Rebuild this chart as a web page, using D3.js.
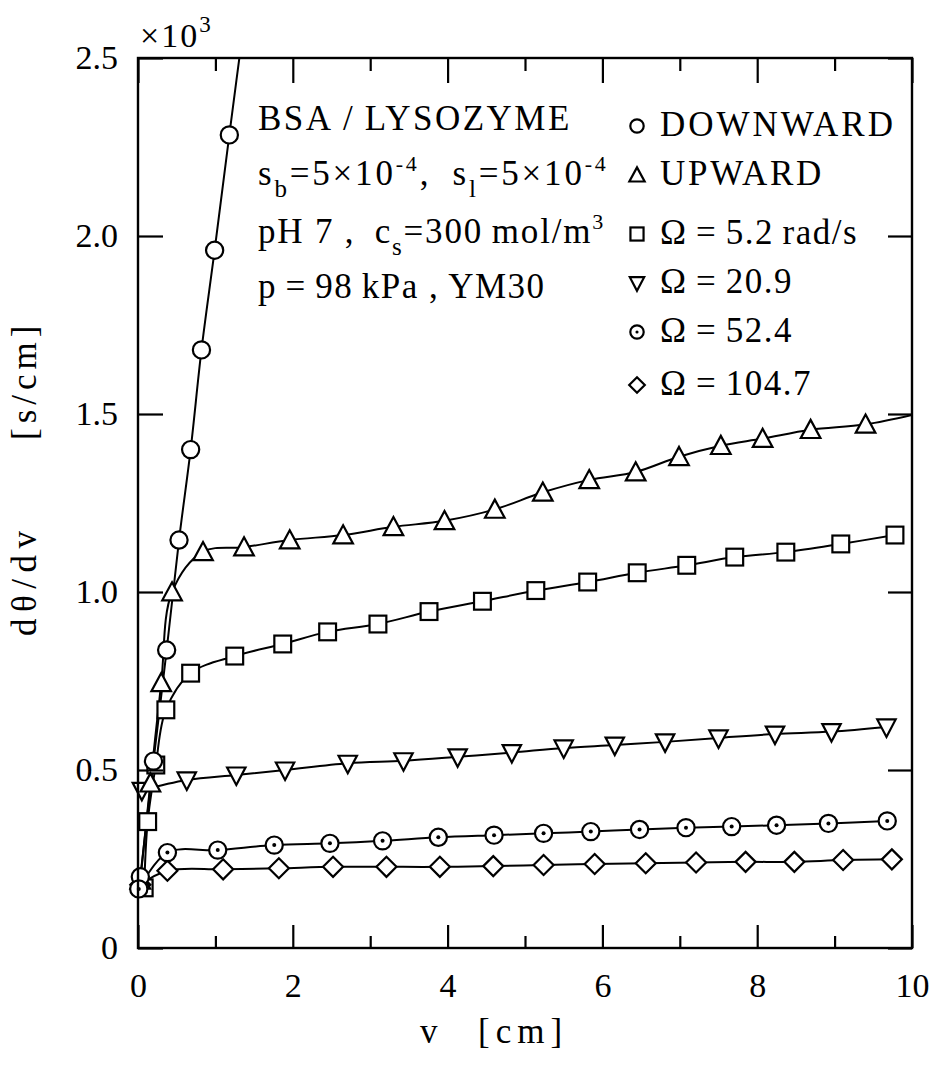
<!DOCTYPE html>
<html>
<head>
<meta charset="utf-8">
<script src="https://cdn.jsdelivr.net/npm/d3@7"></script>
<style>
  html, body { margin: 0; padding: 0; background: #fff; }
  svg { display: block; }
</style>
</head>
<body>
<svg id="chart" width="937" height="1068" font-family="Liberation Serif"></svg>
<script>
// ---- data: dθ/dv [s/cm] against filtrate volume v [cm] ----
const downwardV   = [0.03, 0.20, 0.37, 0.53, 0.68, 0.82, 0.99, 1.18, 1.40];
const downwardVal = [0.20, 0.525, 0.837, 1.146, 1.40, 1.68, 1.96, 2.284, 2.65];

const upwardV   = [0.03, 0.16, 0.30, 0.44, 0.84, 1.37, 1.96, 2.65, 3.30, 3.96, 4.61, 5.23, 5.83, 6.43, 6.99, 7.53, 8.07, 8.69, 9.40, 10.15];
const upwardVal = [0.19, 0.463, 0.745, 1.00, 1.113, 1.126, 1.146, 1.160, 1.183, 1.200, 1.232, 1.280, 1.315, 1.337, 1.380, 1.411, 1.431, 1.456, 1.471, 1.505];

const omega52V   = [0.08, 0.125, 0.23, 0.36, 0.68, 1.25, 1.87, 2.45, 3.10, 3.76, 4.45, 5.14, 5.81, 6.45, 7.09, 7.71, 8.37, 9.08, 9.78];
const omega52Val = [0.169, 0.355, 0.514, 0.669, 0.772, 0.820, 0.854, 0.888, 0.910, 0.945, 0.974, 1.004, 1.028, 1.054, 1.075, 1.098, 1.112, 1.135, 1.160];

const omega209V   = [0.05, 0.63, 1.27, 1.90, 2.71, 3.43, 4.13, 4.83, 5.50, 6.16, 6.81, 7.50, 8.23, 8.96, 9.67];
const omega209Val = [0.443, 0.472, 0.486, 0.500, 0.519, 0.526, 0.537, 0.549, 0.562, 0.570, 0.579, 0.590, 0.601, 0.608, 0.621];

const omega524V   = [0.01, 0.38, 1.03, 1.76, 2.48, 3.16, 3.88, 4.60, 5.24, 5.85, 6.48, 7.08, 7.67, 8.25, 8.92, 9.68];
const omega524Val = [0.166, 0.268, 0.275, 0.289, 0.294, 0.301, 0.311, 0.317, 0.322, 0.327, 0.333, 0.338, 0.341, 0.345, 0.350, 0.357];

const omega1047V   = [0.03, 0.38, 1.10, 1.82, 2.52, 3.21, 3.90, 4.59, 5.24, 5.90, 6.56, 7.21, 7.85, 8.48, 9.11, 9.74];
const omega1047Val = [0.178, 0.217, 0.221, 0.224, 0.228, 0.228, 0.228, 0.230, 0.233, 0.236, 0.238, 0.240, 0.242, 0.242, 0.247, 0.249];

const legendLabels = ["DOWNWARD", "UPWARD", "\u03A9\u2009=\u20095.2\u2009rad/s", "\u03A9\u2009=\u200920.9", "\u03A9\u2009=\u200952.4", "\u03A9\u2009=\u2009104.7"];
const symbolKinds  = ["circle", "triangle", "square", "triangleDown", "dotCircle", "diamond"];

const xMajorTicks = [0, 2, 4, 6, 8, 10];
const xMinorTicks = [1, 3, 5, 7, 9];
const yTicks      = [0, 0.5, 1.0, 1.5, 2.0, 2.5];
const yTickLabels = ["0", "0.5", "1.0", "1.5", "2.0", "2.5"];

const FONT = "Liberation Serif";

// ---- layout ----
const svg = d3.select("#chart");
const margin = { left: 138, top: 58, right: 25, bottom: 120 };
const W = 937, H = 1068;
const w = W - margin.left - margin.right;
const h = H - margin.top - margin.bottom;

const x = d3.scaleLinear().domain([0, 10]).range([0, w]);
const y = d3.scaleLinear().domain([0, 2.5]).range([h, 0]);

const g = svg.append("g").attr("transform", `translate(${margin.left},${margin.top})`);

svg.append("defs").append("clipPath").attr("id", "plotClip")
  .append("rect").attr("x", 0).attr("y", 0).attr("width", w).attr("height", h);

const zip = (vs, ys) => vs.map((v, i) => ({ v, val: ys[i] }));
const series = [
  { kind: "triangleDown", pts: zip(omega209V, omega209Val) },
  { kind: "square",       pts: zip(omega52V, omega52Val) },
  { kind: "diamond",      pts: zip(omega1047V, omega1047Val) },
  { kind: "triangle",     pts: zip(upwardV, upwardVal) },
  { kind: "circle",       pts: zip(downwardV, downwardVal) },
  { kind: "dotCircle",    pts: zip(omega524V, omega524Val) }
];

// ---- curves ----
const line = d3.line()
  .x(d => x(d.v)).y(d => y(d.val))
  .curve(d3.curveCatmullRom.alpha(0.5));

const linesG = g.append("g").attr("clip-path", "url(#plotClip)");
series.forEach(s => {
  linesG.append("path").datum(s.pts)
    .attr("d", line)
    .attr("fill", "none").attr("stroke", "#000").attr("stroke-width", 2);
});

// ---- markers ----
function drawSymbol(sel, kind, scale) {
  const k = scale || 1;
  sel.attr("fill", "#fff").attr("stroke", "#000").attr("stroke-width", 2.2);
  if (kind === "circle" || kind === "dotCircle") {
    sel.append("circle").attr("r", 8.6 * k).attr("fill", "#fff");
    if (kind === "dotCircle") sel.append("circle").attr("r", 2 * k).attr("fill", "#000").attr("stroke", "none");
  } else if (kind === "square") {
    const a = 8.4 * k;
    sel.append("rect").attr("x", -a).attr("y", -a).attr("width", 2 * a).attr("height", 2 * a);
  } else if (kind === "triangle") {
    const s = 9.8 * k, t = 9.8 * k;
    sel.append("path").attr("d", `M0,${-t}L${s},${t * 0.85}L${-s},${t * 0.85}Z`);
  } else if (kind === "triangleDown") {
    const s = 9.2 * k, t = 10 * k;
    sel.append("path").attr("d", `M0,${t}L${s},${-t * 0.75}L${-s},${-t * 0.75}Z`);
  } else if (kind === "diamond") {
    const r = 10 * k;
    sel.append("path").attr("d", `M0,${-r}L${r},0L0,${r}L${-r},0Z`);
  }
}

series.forEach(s => {
  const shown = s.pts.filter(p => p.v <= 10 && p.val <= 2.5);
  g.append("g").selectAll("g").data(shown).join("g")
    .attr("transform", d => `translate(${x(d.v)},${y(d.val)})`)
    .each(function () { drawSymbol(d3.select(this), s.kind); });
});

// ---- axes (ticks pointing inward on all four sides) ----
function styleAxis(sel) {
  sel.attr("font-family", FONT).attr("font-size", 34);
  sel.select(".domain").remove();
  sel.selectAll("line").attr("stroke", "#000").attr("stroke-width", 2.2);
  sel.selectAll("text").attr("fill", "#000");
}

g.append("g").attr("transform", `translate(0,${h})`)
  .call(d3.axisBottom(x).tickValues(xMajorTicks).tickFormat(d3.format("d")).tickSize(-23).tickPadding(25))
  .call(styleAxis);
g.append("g").attr("transform", `translate(0,${h})`)
  .call(d3.axisBottom(x).tickValues(xMinorTicks).tickFormat("").tickSize(-12))
  .call(styleAxis);
g.append("g")
  .call(d3.axisTop(x).tickValues(xMajorTicks).tickFormat("").tickSize(-25))
  .call(styleAxis);
g.append("g")
  .call(d3.axisTop(x).tickValues(xMinorTicks).tickFormat("").tickSize(-13))
  .call(styleAxis);
g.append("g")
  .call(d3.axisLeft(y).tickValues(yTicks).tickFormat((d, i) => yTickLabels[i]).tickSize(-25).tickPadding(20))
  .call(styleAxis);
g.append("g").attr("transform", `translate(${w},0)`)
  .call(d3.axisRight(y).tickValues(yTicks).tickFormat("").tickSize(-24))
  .call(styleAxis);

// frame
g.append("rect").attr("x", 0).attr("y", 0).attr("width", w).attr("height", h)
  .attr("fill", "none").attr("stroke", "#000").attr("stroke-width", 2.4);

// ---- axis titles ----
const xTitle = svg.append("text").attr("x", 420).attr("y", 1043).attr("font-size", 35);
xTitle.append("tspan").text("v");
xTitle.append("tspan").attr("x", 478).attr("letter-spacing", 6).text("[cm]");

const yTitle = svg.append("text")
  .attr("transform", "translate(36,636) rotate(-90)")
  .attr("font-size", 35);
yTitle.append("tspan").attr("letter-spacing", 6.5).text("d\u03B8/dv");
yTitle.append("tspan").attr("x", 196).attr("letter-spacing", 5).text("[s/cm]");

// multiplier above the y axis
const mult = svg.append("text").attr("x", 140).attr("y", 47).attr("font-size", 34);
mult.append("tspan").attr("letter-spacing", 2).text("\u00D710");
mult.append("tspan").attr("font-size", 23).attr("dy", -15).text("3");

// ---- condition block ----
const cond = svg.append("g").attr("font-size", 35);
cond.append("text").attr("x", 258).attr("y", 130).attr("letter-spacing", 2.5).text("BSA\u2009/\u2009LYSOZYME");

const l2 = cond.append("text").attr("x", 258).attr("y", 185).attr("letter-spacing", 2.8);
l2.append("tspan").text("s");
l2.append("tspan").attr("font-size", 25).attr("dy", 12).text("b");
l2.append("tspan").attr("dy", -12).text("=5\u00D710");
l2.append("tspan").attr("font-size", 22).attr("dy", -14).text("-4");
l2.append("tspan").attr("dy", 14).text(", \u2009s");
l2.append("tspan").attr("font-size", 25).attr("dy", 12).text("l");
l2.append("tspan").attr("dy", -12).text("=5\u00D710");
l2.append("tspan").attr("font-size", 22).attr("dy", -14).text("-4");

const l3 = cond.append("text").attr("x", 258).attr("y", 243).attr("letter-spacing", 1.8);
l3.append("tspan").text("pH 7 , \u2009c");
l3.append("tspan").attr("font-size", 25).attr("dy", 12).text("s");
l3.append("tspan").attr("dy", -12).text("=300\u2009mol/m");
l3.append("tspan").attr("font-size", 22).attr("dy", -14).text("3");

cond.append("text").attr("x", 258).attr("y", 298).attr("letter-spacing", 1.5)
  .text("p\u2009=\u200998\u2009kPa , YM30");

// ---- legend ----
const legendRows = [
  { label: legendLabels[0], kind: symbolKinds[0], base: 136, ls: 3 },
  { label: legendLabels[1], kind: symbolKinds[1], base: 185, ls: 2.7 },
  { label: legendLabels[2], kind: symbolKinds[2], base: 244, ls: 1.5 },
  { label: legendLabels[3], kind: symbolKinds[3], base: 293, ls: 1.5 },
  { label: legendLabels[4], kind: symbolKinds[4], base: 342, ls: 1.5 },
  { label: legendLabels[5], kind: symbolKinds[5], base: 395, ls: 1.5 }
];
const leg = svg.append("g");
legendRows.forEach(r => {
  const sym = leg.append("g").attr("transform", `translate(637,${r.base - 10})`);
  drawSymbol(sym, r.kind, 0.78);
  leg.append("text").attr("x", 660).attr("y", r.base).attr("font-size", 35)
    .attr("letter-spacing", r.ls).text(r.label);
});
</script>
</body>
</html>
